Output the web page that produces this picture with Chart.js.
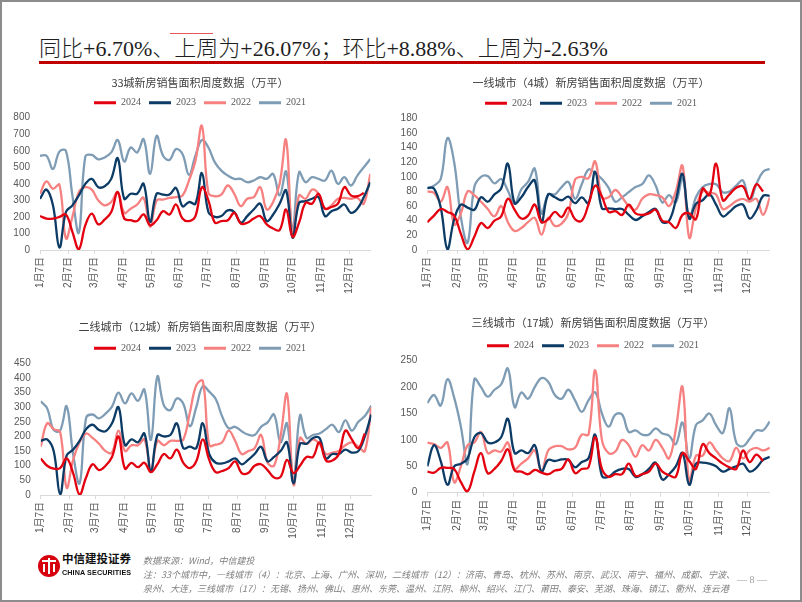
<!DOCTYPE html>
<html>
<head>
<meta charset="utf-8">
<script src="https://cdn.jsdelivr.net/npm/chart.js@4.4.0/dist/chart.umd.min.js"></script>
<style>
  html, body { margin: 0; padding: 0; background: #fff; }
  #slide { position: relative; width: 802px; height: 602px; overflow: hidden; background: #fff; }
  #frame { position: absolute; left: 0; top: 0; width: 802px; height: 602px; box-sizing: border-box; border: 2px solid #8c8c8c; }
  #headline {
    position: absolute; left: 39px; top: 36px; white-space: nowrap;
    font: 300 22px/26px "Liberation Serif", "Noto Sans CJK SC", serif; color: #1e1e1e;
  }
  #rule { position: absolute; left: 39px; top: 61px; width: 726px; height: 3px; background: #c00000; }
  #tick { position: absolute; left: 170px; top: 33px; width: 43px; height: 1px; background: #e8545a; }
  .box { position: absolute; }
  .box canvas { display: block; }
  #logo { position: absolute; left: 38px; top: 555px; }
  #brand { position: absolute; left: 62px; top: 551px; font: bold 11.5px/14px "Noto Sans CJK SC", sans-serif; color: #111; white-space: nowrap; }
  #brand-en { position: absolute; left: 62px; top: 568px; font: bold 7.2px/9px "Liberation Sans", sans-serif; color: #111; white-space: nowrap; letter-spacing: 0.1px; }
  .note { position: absolute; left: 143px; font: italic 9px/11px "Noto Sans CJK SC", sans-serif; color: #7f7f7f; white-space: nowrap; }
  #page { position: absolute; left: 737px; top: 574px; font: 10px/12px "Liberation Serif", serif; color: #a0a0a0; }
</style>
</head>
<body>
<div id="slide">
  <div id="tick"></div>
  <div id="headline">同比+6.70%、上周为+26.07%；环比+8.88%、上周为-2.63%</div>
  <div id="rule"></div>

  <div class="box" style="left:0px;top:70px;"><canvas id="c33" width="400" height="230"></canvas></div>
  <div class="box" style="left:400px;top:70px;"><canvas id="c4" width="382" height="230"></canvas></div>
  <div class="box" style="left:0px;top:310px;"><canvas id="c12" width="400" height="235"></canvas></div>
  <div class="box" style="left:400px;top:310px;"><canvas id="c17" width="386" height="235"></canvas></div>

  <svg id="logo" width="22" height="22" viewBox="0 0 22 22">
    <circle cx="11" cy="11" r="11" fill="#d7000f"/>
    <rect x="4" y="5" width="14" height="2" fill="#fff"/>
    <rect x="10" y="3" width="2" height="16" fill="#fff"/>
    <rect x="5" y="9" width="2" height="8" fill="#fff"/>
    <rect x="15" y="9" width="2" height="8" fill="#fff"/>
  </svg>
  <div id="brand">中信建投证券</div>
  <div id="brand-en">CHINA SECURITIES</div>
  <div class="note" style="top:555px;">数据来源：Wind，中信建投</div>
  <div class="note" style="top:569px;">注：33个城市中，一线城市（4）：北京、上海、广州、深圳，二线城市（12）：济南、青岛、杭州、苏州、南京、武汉、南宁、福州、成都、宁波、</div>
  <div class="note" style="top:583px;">泉州、大连，三线城市（17）：无锡、扬州、佛山、惠州、东莞、温州、江阴、柳州、绍兴、江门、莆田、泰安、芜湖、珠海、镇江、衢州、连云港</div>
  <div id="page">— 8 —</div>
  <div id="frame"></div>
</div>

<script>
const YEARS = ["2024", "2023", "2022", "2021"];
const COLORS = ["#e3000f", "#0c3b66", "#f78080", "#7f9cb5"];
// day offsets from 1月7日 for the month ticks
const MONTH_TICKS = [0, 31, 59, 90, 120, 151, 181, 212, 243, 273, 304, 334];
const MONTH_LABELS = ["1月7日", "2月7日", "3月7日", "4月7日", "5月7日", "6月7日",
  "7月7日", "8月7日", "9月7日", "10月7日", "11月7日", "12月7日"];
const LAST_DAY = 357;

// 33城
const C33_2024 = [205,190,190,200,215,110,5,150,220,155,185,230,350,190,180,175,215,150,180,235,215,275,190,175,205,380,300,165,175,180,225,160,165,190,205,155,130,120,245,80,165,285,280,340,250,260,280,380,330,325,345,null];
const C33_2023 = [310,365,270,15,230,270,330,400,430,380,385,430,555,310,340,340,400,170,340,335,335,375,265,290,280,465,230,200,205,240,230,165,205,245,280,175,215,280,360,75,285,295,310,320,205,235,250,275,225,250,320,410];
const C33_2022 = [340,415,370,395,70,200,350,380,365,300,270,290,350,225,250,275,315,140,300,305,315,320,330,420,540,750,345,325,335,390,340,265,310,320,380,245,290,400,665,80,330,310,365,340,250,270,310,315,310,315,280,460];
const C33_2021 = [570,570,490,595,600,330,105,565,575,548,560,590,665,535,620,590,670,460,690,570,545,610,580,455,570,665,620,530,480,450,430,430,410,420,440,430,460,330,475,130,470,410,440,430,420,480,400,440,390,450,500,550];

// 一线城市（4城）
const C4_2024 = [38,47,56,52,47,22,1,18,37,30,40,46,70,55,43,47,62,38,42,52,45,58,42,40,62,88,73,52,53,48,62,50,48,50,55,40,38,30,48,50,42,84,75,118,68,76,85,87,70,90,80,null];
const C4_2023 = [85,84,58,1,42,62,58,55,72,66,76,84,118,64,72,86,95,38,76,72,68,73,64,72,64,107,57,57,56,56,48,41,46,52,56,38,40,68,104,43,63,68,76,62,46,52,60,62,43,54,74,74];
const C4_2022 = [80,78,66,86,35,50,80,75,66,56,46,60,38,26,30,38,44,21,44,33,36,50,96,100,98,121,72,72,82,72,60,55,70,76,75,72,60,80,115,17,57,80,78,76,56,60,67,70,66,70,48,72];
const C4_2021 = [84,88,97,153,120,45,10,86,100,101,91,97,81,63,83,93,111,50,76,76,86,93,70,90,110,105,97,85,66,72,79,86,90,102,88,65,75,65,98,44,72,86,90,90,79,80,88,95,67,90,107,111];

// 二线城市（12城）
const C12_2024 = [125,100,90,92,125,75,2,60,105,85,100,130,200,90,110,95,110,78,105,140,125,155,110,92,115,190,120,78,82,92,115,75,75,100,105,85,60,62,120,75,100,130,130,180,118,118,140,220,190,160,210,null];
const C12_2023 = [185,190,150,3,135,155,185,225,240,222,218,245,300,170,190,180,210,80,205,200,205,245,160,165,160,245,140,110,108,115,125,105,120,140,165,115,130,150,180,40,175,175,195,195,125,140,140,155,145,150,200,275];
const C12_2022 = [165,245,225,215,25,120,180,210,195,175,150,145,220,150,170,170,190,85,185,170,185,185,190,280,375,390,170,172,180,220,185,140,150,160,205,110,100,200,345,35,195,175,190,175,140,145,150,170,180,165,150,300];
const C12_2021 = [320,296,222,220,303,140,40,263,275,262,278,302,350,313,347,322,360,188,405,306,290,330,312,235,300,372,353,328,268,228,233,218,206,205,233,248,275,180,245,45,272,195,205,210,225,240,215,255,220,250,270,305];

// 三线城市（17城）
const C17_2024 = [40,38,47,47,45,20,3,40,75,37,45,60,82,42,40,35,43,38,35,42,45,63,37,45,48,105,45,30,35,35,55,32,35,40,55,40,33,30,75,60,45,92,75,65,55,48,45,80,58,72,60,null];
const C17_2023 = [50,90,60,15,50,55,65,105,113,95,95,105,140,75,80,75,90,40,62,60,63,62,48,58,65,110,32,30,40,45,45,30,35,45,57,25,35,50,75,15,55,57,55,50,40,45,50,55,40,47,62,68];
const C17_2022 = [95,92,85,95,20,50,90,95,115,75,80,78,95,45,55,65,80,40,80,88,88,82,85,110,110,232,100,75,78,100,90,68,90,80,100,85,65,120,200,20,70,70,95,80,65,60,85,65,80,85,80,85];
const C17_2021 = [170,185,165,215,180,125,55,215,200,182,195,205,235,162,190,178,200,217,210,185,178,195,175,153,175,190,150,125,148,148,115,118,110,110,122,112,108,92,133,65,128,137,150,128,113,160,95,88,102,118,118,135];

const CJK = "'Noto Sans CJK SC', sans-serif";
const TICK_FONT = { family: "'Liberation Sans', 'Noto Sans CJK SC', sans-serif", size: 10 };
const TICK_COLOR = "#595959";

function makeChart(id, cfg) {
  return new Chart(document.getElementById(id), {
    type: "line",
    data: {
      datasets: cfg.series.map((vals, k) => ({
        label: YEARS[k],
        data: vals.map((v, i) => ({ x: i * 7, y: v })),
        borderColor: COLORS[k],
        backgroundColor: COLORS[k],
        borderWidth: 2.3,
        pointRadius: 0,
        tension: 0.4,
        fill: false,
      })),
    },
    options: {
      responsive: false,
      animation: false,
      events: [],
      layout: { padding: 0 },
      plugins: {
        title: {
          display: true,
          text: cfg.title,
          color: "#404040",
          font: { family: CJK, size: 11, weight: "normal" },
          padding: { top: cfg.titleTop, bottom: cfg.titleBottom },
        },
        legend: {
          position: "top",
          labels: {
            boxWidth: 22,
            boxHeight: 3,
            padding: 8,
            color: "#595959",
            font: { family: "'Liberation Serif', serif", size: 10 },
            generateLabels: (chart) =>
              Chart.defaults.plugins.legend.labels.generateLabels(chart)
                .map((it) => Object.assign(it, { lineWidth: 0, fillStyle: it.strokeStyle })),
          },
        },
        tooltip: { enabled: false },
      },
      scales: {
        x: {
          type: "linear",
          min: 0,
          max: LAST_DAY,
          afterBuildTicks: (s) => { s.ticks = MONTH_TICKS.map((v) => ({ value: v })); },
          afterFit: (s) => { s.height = cfg.xHeight; },
          ticks: {
            autoSkip: false,
            minRotation: 90,
            maxRotation: 90,
            padding: 3,
            color: TICK_COLOR,
            font: TICK_FONT,
            callback: (v, i) => MONTH_LABELS[i],
          },
          grid: { display: true, drawOnChartArea: false, drawTicks: true, tickLength: 4, color: "#d9d9d9" },
          border: { display: true, color: "#d9d9d9" },
        },
        y: {
          min: 0,
          max: cfg.yMax,
          ticks: { stepSize: cfg.yStep, autoSkip: false, padding: 10, color: TICK_COLOR, font: TICK_FONT },
          grid: { display: false, drawTicks: false },
          border: { display: false },
          afterFit: (s) => { s.width = cfg.yWidth; },
        },
        pad: {
          position: "right",
          ticks: { display: false },
          grid: { display: false, drawTicks: false },
          border: { display: false },
          afterFit: (s) => { s.width = cfg.rightPad; },
        },
      },
    },
  });
}

makeChart("c33", {
  title: "33城新房销售面积周度数据（万平）",
  series: [C33_2024, C33_2023, C33_2022, C33_2021],
  yMax: 800, yStep: 100,
  yWidth: 40, rightPad: 29.7, titleTop: 6.1, titleBottom: 0.4, xHeight: 50,
});

makeChart("c4", {
  title: "一线城市（4城）新房销售面积周度数据（万平）",
  series: [C4_2024, C4_2023, C4_2022, C4_2021],
  yMax: 180, yStep: 20,
  yWidth: 27.3, rightPad: 12.2, titleTop: 6.1, titleBottom: 1.0, xHeight: 50,
});

makeChart("c12", {
  title: "二线城市（12城）新房销售面积周度数据（万平）",
  series: [C12_2024, C12_2023, C12_2022, C12_2021],
  yMax: 450, yStep: 50,
  yWidth: 40.7, rightPad: 28.7, titleTop: 10.1, titleBottom: 2.0, xHeight: 50,
});

makeChart("c17", {
  title: "三线城市（17城）新房销售面积周度数据（万平）",
  series: [C17_2024, C17_2023, C17_2022, C17_2021],
  yMax: 250, yStep: 50,
  yWidth: 27.3, rightPad: 16.2, titleTop: 6.7, titleBottom: 2.8, xHeight: 52.3,
});
</script>
</body>
</html>
